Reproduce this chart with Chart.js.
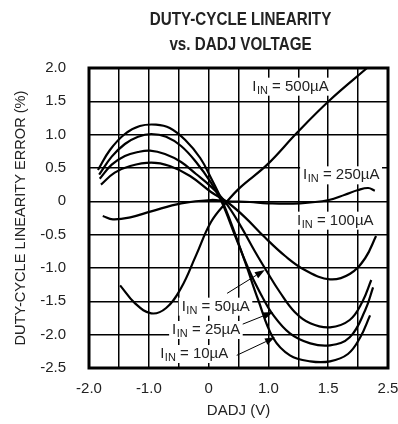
<!DOCTYPE html>
<html>
<head>
<meta charset="utf-8">
<script src="https://cdn.jsdelivr.net/npm/chart.js@4.4.0/dist/chart.umd.min.js"></script>
<style>
  html, body { margin: 0; padding: 0; background: #fff; }
</style>
</head>
<body>
<canvas id="myChart" width="398" height="424"></canvas>
<script>
// axis ticks (the printed labels are kept as they appear on the plot)
var xTickValues = [-2, -1, 0, 1, 2, 3];
var xTickLabels = ['-2.0', '-1.0', '0', '1.0', '1.5', '2.5'];

// DADJ position / linearity error (%)
var dadj10 = [-1.85, -1.65, -1.40, -1.15, -0.88, -0.65, -0.39, -0.14, 0.04, 0.22, 0.39, 0.61, 0.83, 1.08, 1.36, 1.70, 2.03, 2.33, 2.53, 2.70];
var err10 = [0.47, 0.77, 1.01, 1.13, 1.15, 1.10, 0.92, 0.65, 0.35, 0.02, -0.36, -0.91, -1.48, -2.05, -2.31, -2.40, -2.40, -2.29, -2.05, -1.71];

var dadj25 = [-1.83, -1.62, -1.40, -1.18, -0.96, -0.71, -0.46, -0.21, 0.04, 0.22, 0.44, 0.69, 0.89, 1.06, 1.36, 1.70, 2.03, 2.36, 2.62, 2.75];
var err25 = [0.40, 0.67, 0.86, 0.97, 1.01, 0.97, 0.83, 0.59, 0.28, -0.01, -0.51, -1.06, -1.42, -1.68, -1.98, -2.13, -2.16, -2.04, -1.63, -1.29];

var dadj50 = [-1.82, -1.62, -1.40, -1.18, -0.98, -0.73, -0.46, -0.21, 0.04, 0.27, 0.53, 0.78, 0.98, 1.19, 1.44, 1.70, 2.03, 2.36, 2.57, 2.72];
var err50 = [0.34, 0.55, 0.68, 0.74, 0.76, 0.71, 0.59, 0.41, 0.22, 0.0, -0.36, -0.76, -1.06, -1.36, -1.66, -1.83, -1.89, -1.78, -1.51, -1.18];

var dadj100 = [-1.80, -1.57, -1.31, -0.96, -0.65, -0.31, 0.04, 0.31, 0.61, 0.94, 1.28, 1.61, 2.03, 2.36, 2.62, 2.80];
var err100 = [0.25, 0.43, 0.53, 0.58, 0.53, 0.38, 0.14, -0.01, -0.24, -0.54, -0.82, -1.03, -1.17, -1.09, -0.85, -0.52];

var dadj250 = [-1.77, -1.60, -1.31, -0.96, -0.46, 0.04, 0.31, 0.69, 0.98, 1.53, 2.01, 2.28, 2.50, 2.67, 2.78];
var err250 = [-0.22, -0.27, -0.24, -0.15, -0.03, 0.02, 0.0, -0.01, -0.03, -0.03, 0.02, 0.10, 0.17, 0.20, 0.16];

var dadj500 = [-1.48, -1.23, -0.96, -0.71, -0.46, -0.21, 0.04, 0.31, 0.53, 0.98, 1.49, 2.03, 2.65];
var err500 = [-1.26, -1.53, -1.68, -1.60, -1.30, -0.81, -0.31, 0.0, 0.21, 0.55, 1.04, 1.52, 2.0];

// curve labels: text, anchor (data units), optional arrow tail/tip (data units)
var curveLabels = [
    { text: '500\u00b5A', x: 0.73, y: 1.66 },
    { text: '250\u00b5A', x: 1.58, y: 0.33 },
    { text: '100\u00b5A', x: 1.48, y: -0.35 },
    { text: '50\u00b5A', x: -0.45, y: -1.64, from: [0.31, -1.38], to: [0.94, -1.03] },
    { text: '25\u00b5A', x: -0.61, y: -1.99, from: [0.52, -1.86], to: [1.08, -1.66] },
    { text: '10\u00b5A', x: -0.81, y: -2.35, from: [0.47, -2.31], to: [1.11, -2.04] }
];

var series = [
    { name: '10uA', x: dadj10, y: err10 },
    { name: '25uA', x: dadj25, y: err25 },
    { name: '50uA', x: dadj50, y: err50 },
    { name: '100uA', x: dadj100, y: err100 },
    { name: '250uA', x: dadj250, y: err250 },
    { name: '500uA', x: dadj500, y: err500 }
];

var ink = '#222';
var mainFont = '15px "Liberation Sans", Arial, sans-serif';
var subFont = '11px "Liberation Sans", Arial, sans-serif';

function drawCurveLabel(ctx, px, py, amount) {
    ctx.font = mainFont;
    var wI = ctx.measureText('I').width;
    var rest = ' = ' + amount;
    var wRest = ctx.measureText(rest).width;
    ctx.font = subFont;
    var wSub = ctx.measureText('IN').width;
    var w = wI + wSub + wRest;
    ctx.fillStyle = '#fff';
    ctx.fillRect(px - 3, py - 13, w + 6, 18);
    ctx.fillStyle = ink;
    ctx.textAlign = 'left';
    ctx.textBaseline = 'alphabetic';
    ctx.font = mainFont;
    ctx.fillText('I', px, py);
    ctx.font = subFont;
    ctx.fillText('IN', px + wI + 0.5, py + 3);
    ctx.font = mainFont;
    ctx.fillText(rest, px + wI + wSub + 0.5, py);
}

function drawArrow(ctx, x1, y1, x2, y2) {
    var ang = Math.atan2(y2 - y1, x2 - x1);
    var len = 10, half = 3.5;
    ctx.strokeStyle = '#000';
    ctx.lineWidth = 1;
    ctx.beginPath();
    ctx.moveTo(x1, y1);
    ctx.lineTo(x2 - Math.cos(ang) * len, y2 - Math.sin(ang) * len);
    ctx.stroke();
    ctx.fillStyle = '#000';
    ctx.beginPath();
    ctx.moveTo(x2, y2);
    ctx.lineTo(x2 - Math.cos(ang) * len - Math.sin(ang) * half, y2 - Math.sin(ang) * len + Math.cos(ang) * half);
    ctx.lineTo(x2 - Math.cos(ang) * len + Math.sin(ang) * half, y2 - Math.sin(ang) * len - Math.cos(ang) * half);
    ctx.closePath();
    ctx.fill();
}

var decorations = {
    id: 'decorations',
    afterDatasetsDraw: function (chart) {
        var ctx = chart.ctx, xs = chart.scales.x, ys = chart.scales.y, a = chart.chartArea;
        ctx.save();
        // frame
        ctx.lineWidth = 3;
        ctx.strokeStyle = '#000';
        ctx.strokeRect(a.left, a.top, a.right - a.left, a.bottom - a.top);
        // curve labels and arrows
        curveLabels.forEach(function (l) {
            if (l.from) {
                drawArrow(ctx, xs.getPixelForValue(l.from[0]), ys.getPixelForValue(l.from[1]),
                    xs.getPixelForValue(l.to[0]), ys.getPixelForValue(l.to[1]));
            }
            drawCurveLabel(ctx, xs.getPixelForValue(l.x), ys.getPixelForValue(l.y), l.text);
        });
        // title, condensed like the printed one
        var cx = (a.left + a.right) / 2 + 2;
        ctx.fillStyle = ink;
        ctx.textAlign = 'center';
        ctx.textBaseline = 'middle';
        ctx.font = 'bold 19px "Liberation Sans", Arial, sans-serif';
        ctx.translate(cx, 0);
        ctx.scale(0.8, 1);
        ctx.fillText('DUTY-CYCLE LINEARITY', 0, 20);
        ctx.fillText('vs. DADJ VOLTAGE', 0, 45);
        ctx.restore();
    }
};

var ctx = document.getElementById('myChart').getContext('2d');
new Chart(ctx, {
    type: 'line',
    data: {
        datasets: series.map(function (s) {
            return {
                label: s.name,
                data: s.x.map(function (v, i) { return { x: v, y: s.y[i] }; }),
                borderColor: '#000',
                borderWidth: 2.2,
                pointRadius: 0,
                tension: 0.4,
                fill: false
            };
        })
    },
    options: {
        responsive: false,
        animation: false,
        layout: { padding: { top: 68, right: 10, left: 0, bottom: 0 } },
        plugins: { legend: { display: false }, tooltip: { enabled: false } },
        scales: {
            x: {
                type: 'linear',
                min: -2,
                max: 3,
                afterFit: function (s) { s.height = 56; s.paddingLeft = 0; s.paddingRight = 0; },
                afterBuildTicks: function (s) {
                    var t = [];
                    for (var i = 0; i <= 10; i++) t.push({ value: -2 + i * 0.5 });
                    s.ticks = t;
                },
                grid: { color: '#000', lineWidth: 1.5, drawTicks: false },
                border: { display: false },
                ticks: {
                    autoSkip: false,
                    maxRotation: 0,
                    padding: 12,
                    color: ink,
                    font: { family: '"Liberation Sans", Arial, sans-serif', size: 15 },
                    callback: function (v) {
                        var k = xTickValues.indexOf(v);
                        return k >= 0 ? xTickLabels[k] : '';
                    }
                },
                title: {
                    display: true,
                    text: 'DADJ (V)',
                    color: ink,
                    padding: { top: 0, bottom: 4 },
                    font: { family: '"Liberation Sans", Arial, sans-serif', size: 15 }
                }
            },
            y: {
                min: -2.5,
                max: 2.0,
                afterFit: function (s) { s.width = 89; },
                grid: { color: '#000', lineWidth: 1.5, drawTicks: false },
                border: { display: false },
                ticks: {
                    stepSize: 0.5,
                    padding: 23,
                    color: ink,
                    font: { family: '"Liberation Sans", Arial, sans-serif', size: 15 },
                    callback: function (v) { return v === 0 ? '0' : v.toFixed(1); }
                },
                title: {
                    display: true,
                    text: 'DUTY-CYCLE LINEARITY ERROR (%)',
                    color: ink,
                    padding: { top: 12, bottom: 0 },
                    font: { family: '"Liberation Sans", Arial, sans-serif', size: 14.6 }
                }
            }
        }
    },
    plugins: [decorations]
});
</script>
</body>
</html>
